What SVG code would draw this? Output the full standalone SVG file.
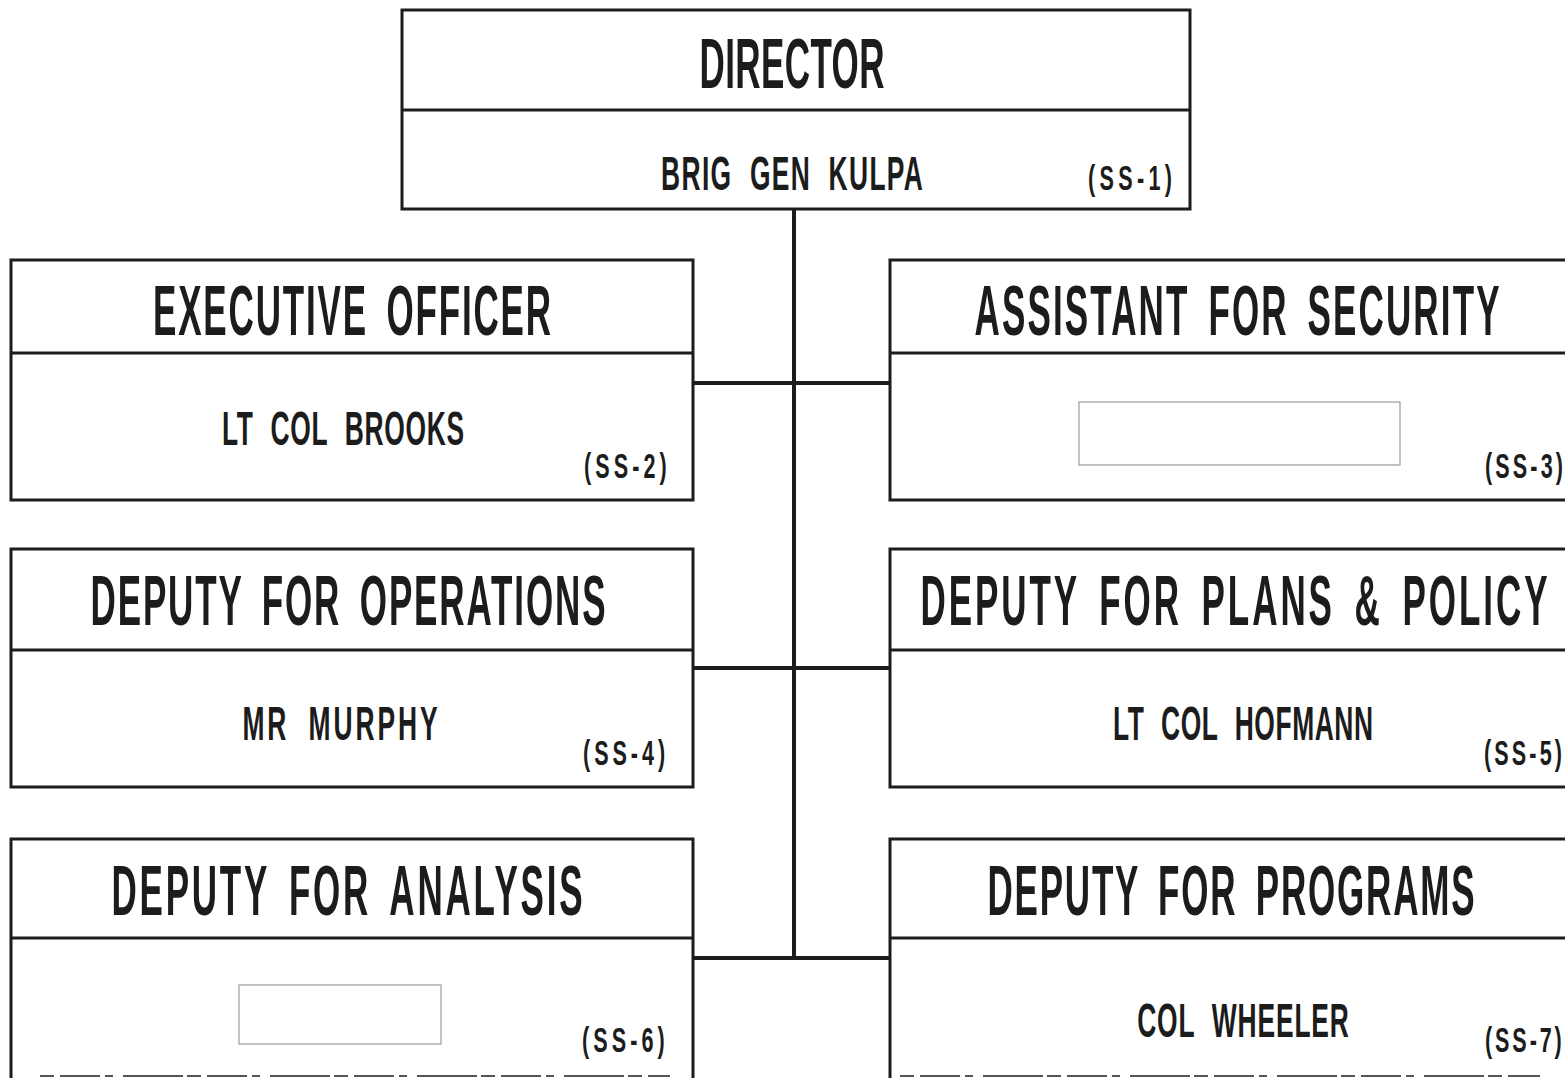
<svg xmlns="http://www.w3.org/2000/svg" width="1565" height="1078" viewBox="0 0 1565 1078">
<style>
.box{fill:none;stroke:#1c1c1c;stroke-width:3}
.conn{fill:none;stroke:#1c1c1c;stroke-width:4}
.blank{fill:#fff;stroke:#9a9a9a;stroke-width:1.2}
text{font-family:"Liberation Sans",Arial,sans-serif;font-weight:bold;fill:#1c1c1c}
.t{font-size:70px;text-anchor:middle;word-spacing:14px}
.n{font-size:48px;text-anchor:middle;word-spacing:16px}
.s{font-size:36px}
.dash{fill:none;stroke:#555;stroke-width:2;stroke-dasharray:14 6 40 5 8 10 60 4}
</style>
<rect width="1565" height="1078" fill="#fff"/>
<g id="connectors">
<line class="conn" x1="794" y1="209" x2="794" y2="960"/>
<line class="conn" x1="693" y1="383" x2="890" y2="383"/>
<line class="conn" x1="693" y1="668" x2="890" y2="668"/>
<line class="conn" x1="693" y1="958" x2="890" y2="958"/>
</g>
<g id="director">
<rect class="box" x="402" y="10" width="788" height="199"/>
<line class="box" x1="402" y1="110" x2="1190" y2="110"/>
<text class="t" transform="translate(792,88) scale(0.5,1)" textLength="370" lengthAdjust="spacing">DIRECTOR</text>
<text class="n" transform="translate(792,190) scale(0.55,1)" textLength="476" lengthAdjust="spacing">BRIG GEN KULPA</text>
<text class="s" transform="translate(1088,190) scale(0.6,1)" textLength="140" lengthAdjust="spacing">(SS-1)</text>
</g>
<g id="executive-officer">
<rect class="box" x="11" y="260" width="682" height="240"/>
<line class="box" x1="11" y1="353" x2="693" y2="353"/>
<text class="t" transform="translate(352,335) scale(0.5,1)" textLength="796" lengthAdjust="spacing">EXECUTIVE OFFICER</text>
<text class="n" transform="translate(343,445) scale(0.55,1)" textLength="440" lengthAdjust="spacing">LT COL BROOKS</text>
<text class="s" transform="translate(584,478) scale(0.6,1)" textLength="138" lengthAdjust="spacing">(SS-2)</text>
</g>
<g id="assistant-security">
<rect class="box" x="890" y="260" width="690" height="240"/>
<line class="box" x1="890" y1="353" x2="1580" y2="353"/>
<text class="t" transform="translate(1237,335) scale(0.5,1)" textLength="1050" lengthAdjust="spacing">ASSISTANT FOR SECURITY</text>
<rect class="blank" x="1079" y="402" width="321" height="63"/>
<text class="s" transform="translate(1485,478) scale(0.6,1)" textLength="130" lengthAdjust="spacing">(SS-3)</text>
</g>
<g id="deputy-operations">
<rect class="box" x="11" y="549" width="682" height="238"/>
<line class="box" x1="11" y1="650" x2="693" y2="650"/>
<text class="t" transform="translate(348,625) scale(0.5,1)" textLength="1030" lengthAdjust="spacing">DEPUTY FOR OPERATIONS</text>
<text class="n" transform="translate(340,740) scale(0.55,1)" textLength="355" lengthAdjust="spacing">MR MURPHY</text>
<text class="s" transform="translate(583,765) scale(0.6,1)" textLength="137" lengthAdjust="spacing">(SS-4)</text>
</g>
<g id="deputy-plans-policy">
<rect class="box" x="890" y="549" width="690" height="238"/>
<line class="box" x1="890" y1="650" x2="1580" y2="650"/>
<text class="t" transform="translate(1234,625) scale(0.5,1)" textLength="1254" lengthAdjust="spacing">DEPUTY FOR PLANS &amp; POLICY</text>
<text class="n" transform="translate(1243,740) scale(0.55,1)" textLength="473" lengthAdjust="spacing">LT COL HOFMANN</text>
<text class="s" transform="translate(1484,765) scale(0.6,1)" textLength="130" lengthAdjust="spacing">(SS-5)</text>
</g>
<g id="deputy-analysis">
<path class="box" d="M11 1078 V839 H693 V1078 M11 938 H693"/>
<text class="t" transform="translate(347,915) scale(0.5,1)" textLength="942" lengthAdjust="spacing">DEPUTY FOR ANALYSIS</text>
<rect class="blank" x="239" y="985" width="202" height="59"/>
<text class="s" transform="translate(582,1052) scale(0.6,1)" textLength="138" lengthAdjust="spacing">(SS-6)</text>
</g>
<g id="deputy-programs">
<path class="box" d="M890 1078 V839 H1580 M890 938 H1580"/>
<text class="t" transform="translate(1231,915) scale(0.5,1)" textLength="974" lengthAdjust="spacing">DEPUTY FOR PROGRAMS</text>
<text class="n" transform="translate(1243,1037) scale(0.55,1)" textLength="385" lengthAdjust="spacing">COL WHEELER</text>
<text class="s" transform="translate(1485,1052) scale(0.6,1)" textLength="128" lengthAdjust="spacing">(SS-7)</text>
</g>
<line class="dash" x1="40" y1="1076" x2="670" y2="1076"/>
<line class="dash" x1="900" y1="1076" x2="1540" y2="1076"/>
</svg>
